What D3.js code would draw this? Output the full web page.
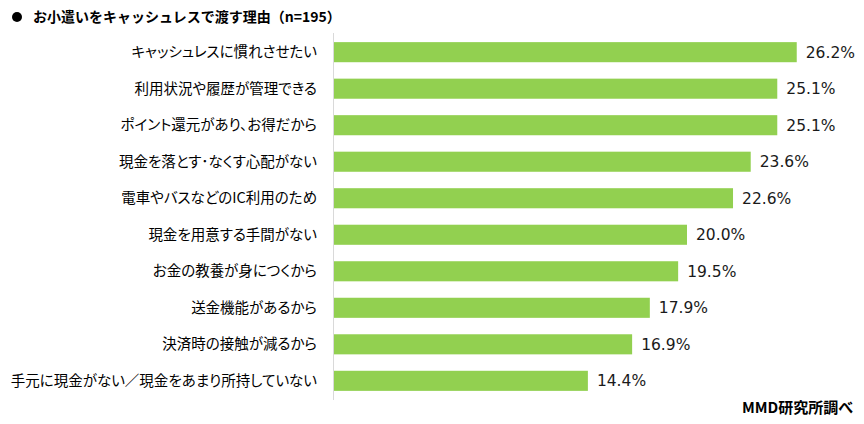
<!DOCTYPE html>
<html><head><meta charset="utf-8">
<script src="https://cdn.jsdelivr.net/npm/d3@7"></script>
<style>
body{margin:0;background:#fff;}
svg text{font-family:"Noto Sans CJK JP","Noto Sans",sans-serif;font-feature-settings:"palt";}
svg text.title{font-feature-settings:normal;}
</style></head>
<body>
<svg id="chart" width="864" height="424"></svg>
<script>
const title = "お小遣いをキャッシュレスで渡す理由（n=195）";
const source = "MMD研究所調べ";
const categories = [
  "キャッシュレスに慣れさせたい",
  "利用状況や履歴が管理できる",
  "ポイント還元があり、お得だから",
  "現金を落とす･なくす心配がない",
  "電車やバスなどのIC利用のため",
  "現金を用意する手間がない",
  "お金の教養が身につくから",
  "送金機能があるから",
  "決済時の接触が減るから",
  "手元に現金がない／現金をあまり所持していない"
];
const values = [26.2, 25.1, 25.1, 23.6, 22.6, 20.0, 19.5, 17.9, 16.9, 14.4];

const svg = d3.select("#chart");
const x0 = 333;
const x = d3.scaleLinear().domain([0, 10]).range([x0, x0 + 177]);
const y = d3.scaleBand().domain(categories).range([33, 400]).paddingInner(0.45).paddingOuter(0.25);

// title
svg.append("circle").attr("cx", 17).attr("cy", 17).attr("r", 5).attr("fill", "#000");
svg.append("text").attr("class", "title").attr("x", 33).attr("y", 22).attr("font-size", 14).attr("font-weight", "bold")
  .attr("fill", "#000").text(title);

// bars
svg.selectAll("rect.bar").data(values).join("rect").attr("class", "bar")
  .attr("x", x(0)).attr("y", (d, i) => y(categories[i]))
  .attr("width", d => x(d) - x(0)).attr("height", y.bandwidth())
  .attr("fill", "#92d050");

// axis line
svg.append("line").attr("x1", x0 + 0.5).attr("x2", x0 + 0.5).attr("y1", 33).attr("y2", 400)
  .attr("stroke", "#d9d9d9").attr("stroke-width", 1);

// category labels
svg.selectAll("text.cat").data(categories).join("text").attr("class", "cat")
  .attr("x", x0 - 16).attr("y", d => y(d) + y.bandwidth() / 2)
  .attr("dy", "0.35em").attr("text-anchor", "end").attr("font-size", 14.5).attr("fill", "#000")
  .text(d => d);

// value labels
svg.selectAll("text.val").data(values).join("text").attr("class", "val")
  .attr("x", d => x(d) + 9).attr("y", (d, i) => y(categories[i]) + y.bandwidth() / 2)
  .attr("dy", "0.36em").attr("font-size", 15.5).attr("fill", "#1a1a1a")
  .style("font-family", "'DejaVu Sans',sans-serif")
  .text(d => d.toFixed(1) + "%");

// source
svg.append("text").attr("x", 853).attr("y", 413).attr("text-anchor", "end")
  .attr("font-size", 15).attr("font-weight", "bold").attr("fill", "#000").text(source);
</script>
</body></html>
